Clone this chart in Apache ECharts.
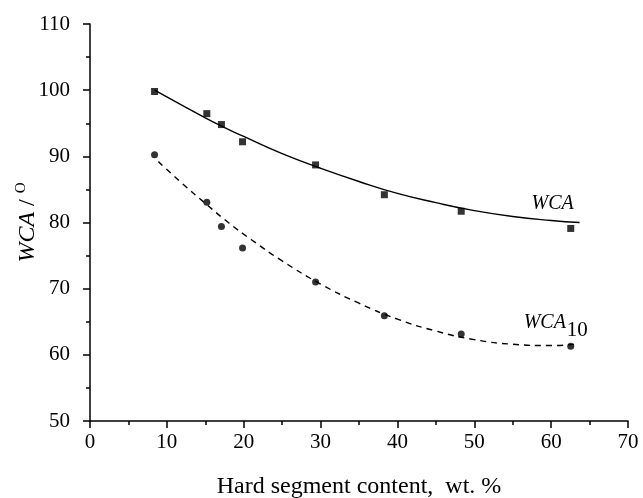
<!DOCTYPE html>
<html><head><meta charset="utf-8">
<script src="https://cdn.jsdelivr.net/npm/echarts@6/dist/echarts.min.js"></script>
<style>html,body{margin:0;padding:0;background:#fff}#c{width:643px;height:498px}</style>
</head><body><div id="c"></div>
<script>
var xTicks = [0, 10, 20, 30, 40, 50, 60, 70];
var yTicks = [50, 60, 70, 80, 90, 100, 110];
var hardX = [8.4, 15.2, 17.1, 19.85, 29.35, 38.3, 48.3, 62.55];
var wcaY = [99.8, 96.45, 94.8, 92.2, 88.7, 84.2, 81.7, 79.1];
var wca10Y = [90.25, 83.05, 79.4, 76.15, 71.0, 65.9, 63.15, 61.3];
var fitWcaX = [8.4, 12, 16, 20, 25, 30, 35, 40, 45, 50, 55, 60, 63.7];
var fitWcaY = [100.0, 97.7, 95.2, 93.0, 90.4, 88.2, 86.2, 84.4, 83.0, 81.8, 80.9, 80.3, 80.0];
var fitWca10X = [8.9, 12, 15, 18, 21, 25, 30, 35, 40, 45, 50, 55, 60, 63.1];
var fitWca10Y = [89.2, 85.9, 82.9, 80.0, 77.4, 74.2, 70.7, 67.8, 65.4, 63.6, 62.3, 61.6, 61.4, 61.6];

function pairs(xs, ys){ return xs.map(function(x,i){ return [x, ys[i]]; }); }
var FONT = 'Liberation Serif';
var chart = echarts.init(document.getElementById('c'));
var axisCommon = {
  axisLine: {show: true, onZero: false, lineStyle: {color: '#000', width: 1.5}},
  axisTick: {show: true, inside: false, length: 7, lineStyle: {color: '#000', width: 1.5}},
  minorTick: {show: true, splitNumber: 2, length: 4, lineStyle: {color: '#000', width: 1.5}},
  splitLine: {show: false},
  axisLabel: {color: '#000', fontFamily: FONT, fontSize: 21}
};
chart.setOption({
  animation: false,
  backgroundColor: '#fff',
  grid: {left: 90, right: 15, top: 24, bottom: 77, outerBoundsMode: 'none', containLabel: false},
  xAxis: Object.assign({}, axisCommon, {
    type: 'value', min: xTicks[0], max: xTicks[xTicks.length-1], interval: 10,
    name: 'Hard segment content,  wt. %', nameLocation: 'middle', nameGap: 54, nameMoveOverlap: false,
    nameTextStyle: {color: '#000', fontFamily: FONT, fontSize: 24},
    axisLabel: Object.assign({}, axisCommon.axisLabel, {margin: 11})
  }),
  yAxis: Object.assign({}, axisCommon, {
    type: 'value', min: yTicks[0], max: yTicks[yTicks.length-1], interval: 10,
    name: '{i|WCA} / {s|O}', nameLocation: 'middle', nameGap: 49, nameRotate: 90, nameMoveOverlap: false,
    nameTextStyle: {color: '#000', fontFamily: FONT, fontSize: 24,
      rich: {i: {fontStyle: 'italic', fontFamily: FONT, fontSize: 24, color: '#000'},
             s: {fontFamily: FONT, fontSize: 15, color: '#000', padding: [0,0,12,0]}}},
    axisLabel: Object.assign({}, axisCommon.axisLabel, {margin: 20})
  }),
  series: [
    {type: 'line', data: pairs(fitWcaX, fitWcaY), smooth: true, showSymbol: false,
     lineStyle: {color: '#000', width: 1.4}, z: 2,
     markPoint: {symbol: 'circle', symbolSize: 0, silent: true,
       data: [{coord: [60.2, 82.8], label: {show: true, position: 'inside', formatter: 'WCA',
         color: '#000', fontFamily: FONT, fontStyle: 'italic', fontSize: 20}}]}},
    {type: 'line', data: pairs(fitWca10X, fitWca10Y), smooth: true, showSymbol: false,
     lineStyle: {color: '#000', width: 1.4, type: [6, 5]}, z: 2,
     markPoint: {symbol: 'circle', symbolSize: 0, silent: true,
       data: [{coord: [60.6, 64.4], label: {show: true, position: 'inside', formatter: '{a|WCA}{b|10}',
         rich: {a: {color: '#000', fontFamily: FONT, fontStyle: 'italic', fontSize: 20, padding: [0,0,6,0]},
                b: {color: '#000', fontFamily: FONT, fontSize: 21, padding: [9,0,0,1]}}}}]}},
    {type: 'scatter', data: pairs(hardX, wcaY), symbol: 'rect', symbolSize: 7,
     itemStyle: {color: '#000'}, z: 3},
    {type: 'scatter', data: pairs(hardX, wca10Y), symbol: 'circle', symbolSize: 7,
     itemStyle: {color: '#000'}, z: 3}
  ]
});
</script></body></html>
